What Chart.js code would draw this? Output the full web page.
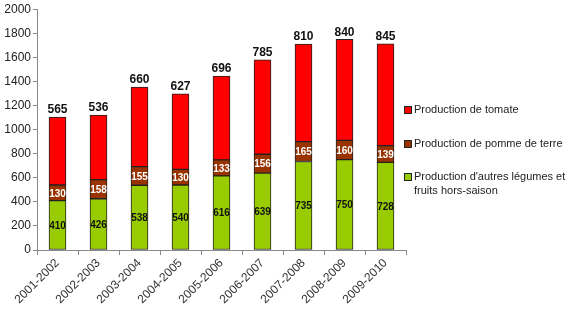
<!DOCTYPE html>
<html>
<head>
<meta charset="utf-8">
<script src="https://cdn.jsdelivr.net/npm/chart.js@4"></script>
<style>
  html, body { margin: 0; padding: 0; background: #fff; }
  #wrap { position: relative; width: 580px; height: 322px; }
  #legend { position: absolute; left: 404px; top: 0; font: 11px "Liberation Sans", Arial, sans-serif; color: #222; }
  .item { position: absolute; left: 0; width: 172px; white-space: nowrap; }
  .item .box { position: absolute; left: 0; top: 4px; width: 6px; height: 6px; border: 1px solid #222; }
  .item .txt { position: absolute; left: 10px; top: 0; line-height: 14px; }
</style>
</head>
<body>
<div id="wrap">
  <canvas id="c" width="580" height="322"></canvas>
  <div id="legend"></div>
</div>
<script>
//Stacked production bars, 2001-2010, with per-segment value labels
//drawn by a small inline plugin (no datalabels dependency).

const seasons = ['2001-2002', '2002-2003', '2003-2004', '2004-2005', '2005-2006',
                 '2006-2007', '2007-2008', '2008-2009', '2009-2010'];
const autres  = [410, 426, 538, 540, 616, 639, 735, 750, 728];
const pomme   = [130, 158, 155, 130, 133, 156, 165, 160, 139];
const tomate  = [565, 536, 660, 627, 696, 785, 810, 840, 845];
const yTicks  = [0, 200, 400, 600, 800, 1000, 1200, 1400, 1600, 1800, 2000];

const FONT = '"Liberation Sans", Arial, sans-serif';

const legendItems = [
    { label: 'Production de tomate', color: '#ff0000', top: 102 },
    { label: 'Production de pomme de terre', color: '#993300', top: 136 },
    { label: 'Production d\'autres légumes et<br>fruits hors-saison', color: '#99cc00', top: 169 },
];

const legendEl = document.getElementById('legend');
legendItems.forEach((it) =>
{
    const d = document.createElement('div');
    d.className = 'item';
    d.style.top = it.top + 'px';
    d.innerHTML = `<span class="box" style="background:${it.color}"></span><span class="txt">${it.label}</span>`;
    legendEl.appendChild(d);
});

const valueLabels = {
    id: 'value-labels',
    afterDatasetsDraw(chart)
    {
        const ctx = chart.ctx;
        ctx.save();
        ctx.textAlign = 'center';
        chart.data.datasets.forEach((ds, di) =>
        {
            const meta = chart.getDatasetMeta(di);
            meta.data.forEach((bar, i) =>
            {
                const v = ds.data[i];
                if (di === 2)
                {
                    ctx.font = 'bold 12px ' + FONT;
                    ctx.fillStyle = '#111';
                    ctx.textBaseline = 'bottom';
                    ctx.fillText(String(v), bar.x, bar.y - 1);
                }
                else
                {
                    ctx.font = 'bold 10px ' + FONT;
                    ctx.fillStyle = di === 0 ? '#111' : '#fff';
                    ctx.textBaseline = 'middle';
                    ctx.fillText(String(v), bar.x, (bar.y + bar.base) / 2 + 1);
                }
            });
        });
        ctx.restore();
    },
};

new Chart(document.getElementById('c'), {
    type: 'bar',
    data: {
        labels: seasons,
        datasets: [
            { label: 'autres', data: autres, backgroundColor: '#99cc00' },
            { label: 'pomme',  data: pomme,  backgroundColor: '#993300' },
            { label: 'tomate', data: tomate, backgroundColor: '#ff0000' },
        ].map((d) => Object.assign(d, { borderColor: '#222', borderWidth: 1, borderSkipped: false, barThickness: 17 })),
    },
    options: {
        responsive: false,
        animation: false,
        layout: { padding: { top: 7, right: 174, left: 0, bottom: 0 } },
        plugins: { legend: { display: false }, tooltip: { enabled: false } },
        scales: {
            x: {
                stacked: true,
                grid: { display: true, drawOnChartArea: false, offset: true, color: '#888', tickLength: 5 },
                border: { color: '#888' },
                ticks: { color: '#333', font: { family: FONT, size: 12 }, maxRotation: 45, minRotation: 45, padding: 1 },
                afterFit: (s) => { s.height = 72; },
            },
            y: {
                stacked: true,
                min: 0,
                max: 2000,
                afterBuildTicks: (s) => { s.ticks = yTicks.map((v) => ({ value: v })); },
                grid: { display: true, drawOnChartArea: false, color: '#888', tickLength: 4 },
                border: { color: '#888' },
                ticks: { color: '#222', font: { family: FONT, size: 12 }, padding: 2, callback: (v) => String(v) },
                afterFit: (s) => { s.width = 37; },
            },
        },
    },
    plugins: [valueLabels],
});
</script>
</body>
</html>
